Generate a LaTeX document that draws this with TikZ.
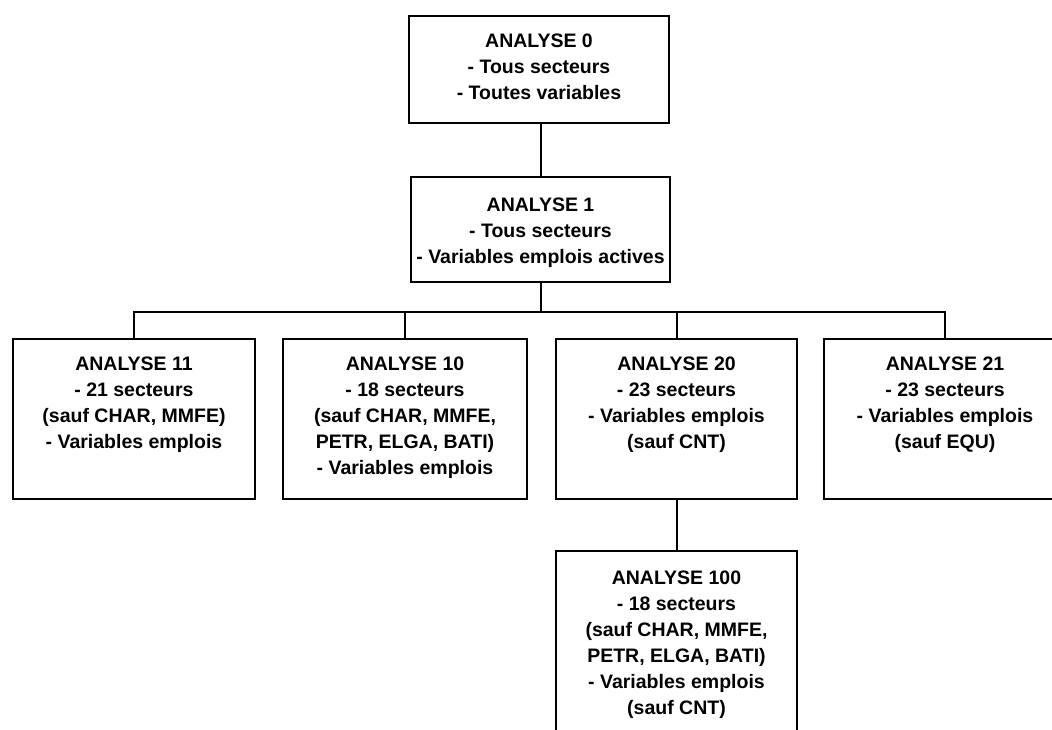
\documentclass[tikz,border=0pt]{standalone}
\usepackage{fontspec}
\setmainfont{Liberation Sans}
\begin{document}
\begin{tikzpicture}[x=1pt,y=-1pt, line width=2pt,
  box/.style={draw, line width=2pt, rectangle, inner sep=0pt, anchor=north west},
  txt/.style={anchor=north, align=center, inner sep=0pt, font=\fontsize{19.5}{26}\selectfont\bfseries},
  wire/.style={draw, line width=2pt}]
\useasboundingbox (0,0) rectangle (1052,729);
\clip (0,0) rectangle (1052,729);
% boxes
\node[box, minimum width=260, minimum height=107] (b0) at (408,15) {};
\node[box, minimum width=259, minimum height=105] (b1) at (410,176) {};
\node[box, minimum width=242, minimum height=160] (b11) at (12,338) {};
\node[box, minimum width=244, minimum height=160] (b10) at (282,338) {};
\node[box, minimum width=241, minimum height=160] (b20) at (555,338) {};
\node[box, minimum width=242, minimum height=160] (b21) at (823,338) {};
\node[box, minimum width=241, minimum height=200] (b100) at (555,550) {};
% texts
\node[txt] (t0) at ([yshift=-18pt]b0.north) {ANALYSE 0\\- Tous secteurs\\- Toutes variables};
\node[txt] (t1) at ([yshift=-21pt]b1.north) {ANALYSE 1\\- Tous secteurs\\- Variables emplois actives};
\node[txt] (t11) at ([yshift=-18pt]b11.north) {ANALYSE 11\\- 21 secteurs\\(sauf CHAR, MMFE)\\- Variables emplois};
\node[txt] (t10) at ([yshift=-18pt]b10.north) {ANALYSE 10\\- 18 secteurs\\(sauf CHAR, MMFE,\\PETR, ELGA, BATI)\\- Variables emplois};
\node[txt] (t20) at ([yshift=-18pt]b20.north) {ANALYSE 20\\- 23 secteurs\\- Variables emplois\\(sauf CNT)};
\node[txt] (t21) at ([yshift=-18pt]b21.north) {ANALYSE 21\\- 23 secteurs\\- Variables emplois\\(sauf EQU)};
\node[txt] (t100) at ([yshift=-20pt]b100.north) {ANALYSE 100\\- 18 secteurs\\(sauf CHAR, MMFE,\\PETR, ELGA, BATI)\\- Variables emplois\\(sauf CNT)};
% connectors
\coordinate (bar) at (0,312);
\path[wire] (b1.north) -- (b1.north |- b0.south);
\path[wire] (b1.south) -- (b1.south |- bar);
\path[wire] (b11.north) -- (b11.north |- bar) -| (b21.north);
\path[wire] (b10.north) -- (b10.north |- bar);
\path[wire] (b20.north) -- (b20.north |- bar);
\path[wire] (b20.south) -- (b100.north);
\end{tikzpicture}
\end{document}
